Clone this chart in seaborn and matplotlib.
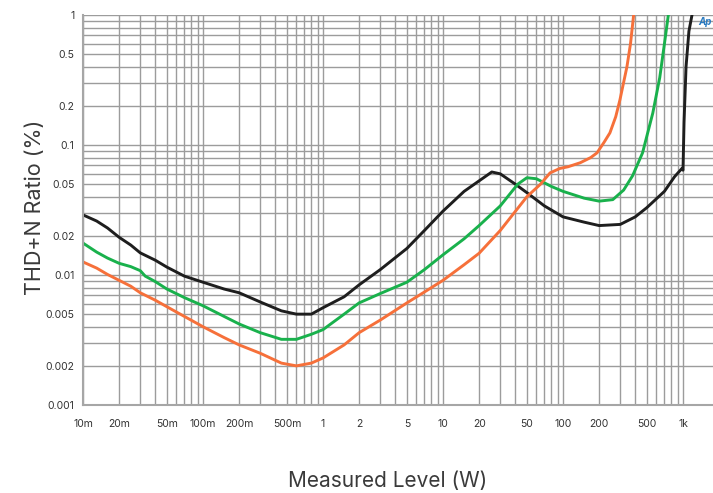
import numpy as np
import pandas as pd
import matplotlib
matplotlib.use("Agg")
import matplotlib.pyplot as plt
import matplotlib.ticker as mticker
import seaborn as sns

# level (W) and THD+N (%)
black_x = [0.010, 0.013, 0.016, 0.020, 0.025, 0.030, 0.040, 0.050, 0.070, 0.100, 0.150, 0.200,
           0.300, 0.450, 0.600, 0.800, 1.0, 1.5, 2.0, 3.0, 5.0, 7.0, 10.0, 15.0, 20.0, 25.5,
           30.0, 40.0, 50.0, 70.0, 100.0, 150.0, 200.0, 300.0, 400.0, 500.0, 700.0, 850.0,
           980.0, 1000.0, 1020.0, 1060.0, 1120.0, 1200.0]
black_y = [0.029, 0.026, 0.023, 0.0195, 0.017, 0.0148, 0.013, 0.0115, 0.0098, 0.0088, 0.0078, 0.0073,
           0.0062, 0.0053, 0.0050, 0.0050, 0.0056, 0.0068, 0.0084, 0.0110, 0.016, 0.022, 0.031, 0.044,
           0.053, 0.062, 0.060, 0.050, 0.043, 0.034, 0.028, 0.0255, 0.024, 0.0245, 0.028, 0.033,
           0.044, 0.057, 0.066, 0.064, 0.15, 0.40, 0.75, 1.05]

green_x = [0.010, 0.013, 0.016, 0.020, 0.025, 0.030, 0.033, 0.040, 0.050, 0.070, 0.100, 0.150,
           0.200, 0.300, 0.450, 0.600, 0.800, 1.0, 1.5, 2.0, 3.0, 5.0, 7.0, 10.0, 15.0, 20.0,
           30.0, 42.0, 50.0, 60.0, 80.0, 100.0, 150.0, 200.0, 260.0, 320.0, 380.0, 460.0, 560.0,
           640.0, 700.0, 760.0]
green_y = [0.0176, 0.015, 0.0135, 0.0123, 0.0116, 0.0108, 0.0098, 0.0089, 0.0078, 0.0067, 0.0058, 0.0048,
           0.0042, 0.0036, 0.0032, 0.0032, 0.0035, 0.0038, 0.0050, 0.0061, 0.0072, 0.0088, 0.011, 0.0143, 0.019, 0.024,
           0.034, 0.050, 0.056, 0.055, 0.048, 0.044, 0.039, 0.037, 0.038, 0.045, 0.058, 0.087, 0.176,
           0.33, 0.6, 1.05]

orange_x = [0.010, 0.013, 0.016, 0.020, 0.025, 0.030, 0.040, 0.050, 0.070, 0.100, 0.150, 0.200,
            0.300, 0.450, 0.600, 0.800, 1.0, 1.5, 2.0, 3.0, 5.0, 7.0, 10.0, 15.0, 20.0, 30.0,
            50.0, 65.0, 78.0, 94.0, 110.0, 139.0, 170.0, 192.0, 220.0, 246.0, 275.0, 298.0,
            341.0, 365.0, 390.0]
orange_y = [0.0126, 0.0113, 0.0101, 0.0091, 0.0082, 0.0073, 0.0064, 0.0057, 0.0048, 0.0040, 0.0033, 0.0029,
            0.0025, 0.0021, 0.0020, 0.0021, 0.0023, 0.0029, 0.0036, 0.0045, 0.0061, 0.0074, 0.0091, 0.012, 0.0147, 0.022,
            0.040, 0.050, 0.061, 0.066, 0.068, 0.073, 0.080, 0.087, 0.105, 0.124, 0.165, 0.222,
            0.40, 0.60, 1.05]

x_ticks = [0.01, 0.02, 0.05, 0.1, 0.2, 0.5, 1, 2, 5, 10, 20, 50, 100, 200, 500, 1000]
x_labels = ["10m", "20m", "50m", "100m", "200m", "500m", "1", "2", "5", "10", "20", "50",
            "100", "200", "500", "1k"]
y_ticks = [0.001, 0.002, 0.005, 0.01, 0.02, 0.05, 0.1, 0.2, 0.5, 1]
y_labels = ["0.001", "0.002", "0.005", "0.01", "0.02", "0.05", "0.1", "0.2", "0.5", "1"]

df = pd.concat([
    pd.DataFrame({"level": black_x, "thd": black_y, "trace": "black"}),
    pd.DataFrame({"level": green_x, "thd": green_y, "trace": "green"}),
    pd.DataFrame({"level": orange_x, "thd": orange_y, "trace": "orange"}),
])
palette = {"black": "#1e1e1e", "green": "#19b14c", "orange": "#f6703a"}

sns.set_style("white")
plt.rcParams['font.family'] = ['Inter', 'DejaVu Sans']

fig = plt.figure(figsize=(7.13, 4.93), dpi=100)
ax = fig.add_axes([83 / 713, 1 - 405 / 493, 1 - 83 / 713, 390 / 493])

ax.set_xscale("log")
ax.set_yscale("log")
ax.set_xlim(0.01, 1778)
ax.set_ylim(0.001, 1)

ax.grid(True, which="major", color="#9c9c9c", linewidth=1.0)
ax.grid(True, which="minor", color="#9c9c9c", linewidth=1.0)
ax.set_axisbelow(True)

sns.lineplot(data=df, x="level", y="thd", hue="trace", palette=palette, sort=False,
             linewidth=2.1, legend=False, ax=ax, estimator=None)

ax.xaxis.set_major_locator(mticker.FixedLocator(x_ticks))
ax.xaxis.set_major_formatter(mticker.FixedFormatter(x_labels))
ax.yaxis.set_major_locator(mticker.FixedLocator(y_ticks))
ax.yaxis.set_major_formatter(mticker.FixedFormatter(y_labels))
ax.xaxis.set_minor_locator(mticker.LogLocator(base=10, subs=np.arange(2, 10)))
ax.yaxis.set_minor_locator(mticker.LogLocator(base=10, subs=np.arange(2, 10)))
ax.xaxis.set_minor_formatter(mticker.NullFormatter())
ax.yaxis.set_minor_formatter(mticker.NullFormatter())
ax.tick_params(which="both", length=0, labelsize=7.5, labelcolor="#333333")
ax.tick_params(axis="x", pad=10)
ax.tick_params(axis="y", pad=6)

for side in ["top", "right"]:
    ax.spines[side].set_visible(False)
for side in ["left", "bottom"]:
    ax.spines[side].set_color("#a6a6a6")
    ax.spines[side].set_linewidth(1.5)

ax.set_xlabel("")
ax.set_ylabel("")
fig.text(388 / 713, 1 - 481 / 493, "Measured Level (W)", ha="center", va="center",
         fontsize=15, color="#3a3a3a")
fig.text(35 / 713, 1 - 207 / 493, "THD+N Ratio (%)", ha="center", va="center",
         rotation=90, fontsize=15.5, color="#3a3a3a")
fig.text(712 / 713, 1 - 22 / 493, "Ap", ha="right", va="center", fontsize=7,
         color="#2a7ac0", style="italic", fontweight="bold")

fig.savefig("out.png", dpi=100)
